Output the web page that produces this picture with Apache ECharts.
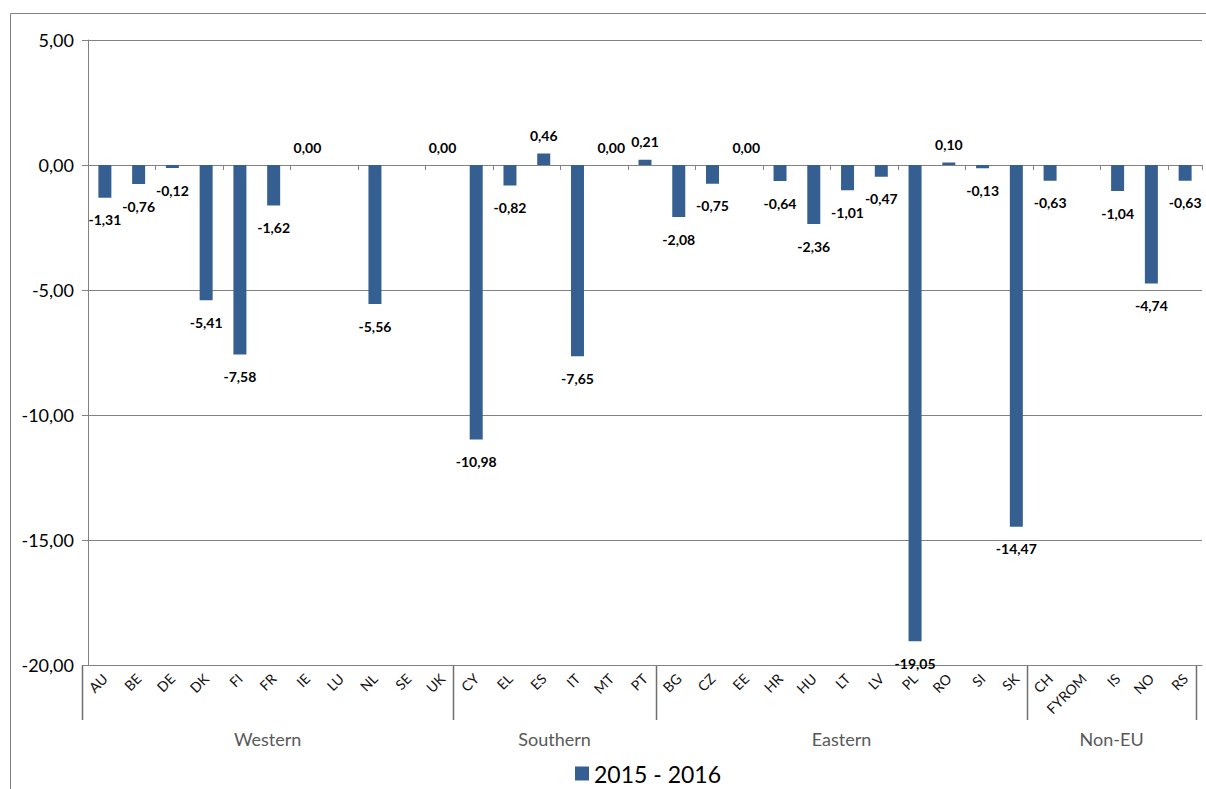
<!DOCTYPE html>
<html>
<head>
<meta charset="utf-8">
<script src="https://cdn.jsdelivr.net/npm/echarts@6/dist/echarts.min.js"></script>
<style>
  html, body { margin: 0; padding: 0; background: #ffffff; }
  #chart { width: 1206px; height: 789px; }
</style>
</head>
<body>
<div id="chart"></div>
<script>
// Country codes, in group order
const countries = [
  'AU', 'BE', 'DE', 'DK', 'FI', 'FR', 'IE', 'LU', 'NL', 'SE', 'UK',
  'CY', 'EL', 'ES', 'IT', 'MT', 'PT',
  'BG', 'CZ', 'EE', 'HR', 'HU', 'LT', 'LV', 'PL', 'RO', 'SI', 'SK',
  'CH', 'FYROM', 'IS', 'NO', 'RS'
];
// Change 2015 - 2016 (null = no data)
const values = [
  -1.31, -0.76, -0.12, -5.41, -7.58, -1.62, 0.00, null, -5.56, null, 0.00,
  -10.98, -0.82, 0.46, -7.65, 0.00, 0.21,
  -2.08, -0.75, 0.00, -0.64, -2.36, -1.01, -0.47, -19.05, 0.10, -0.13, -14.47,
  -0.63, null, -1.04, -4.74, -0.63
];
const groupNames = ['Western', 'Southern', 'Eastern', 'Non-EU'];
const groupSizes = [11, 6, 11, 5];
const seriesName = '2015 - 2016';
const yMin = -20;
const yMax = 5;
const yStep = 5;

const FONT = 'Lato, "Open Sans", sans-serif';
const AXIS_GRAY = '#828282';
const BAR_COLOR = '#365F91';

const fmt = v => Number(v).toFixed(2).replace('.', ',');

const chart = echarts.init(document.getElementById('chart'), null, { renderer: 'svg' });

const barData = values.map(v => v === null ? '-' : {
  value: v,
  label: { position: v < 0 ? 'bottom' : 'top', distance: v < 0 ? 15 : 11 }
});

chart.setOption({
  animation: false,
  backgroundColor: '#ffffff',
  grid: { left: 88, right: 4, top: 40, bottom: 124, containLabel: false },
  legend: {
    data: [seriesName],
    left: 570,
    top: 757,
    icon: 'rect',
    itemWidth: 14,
    itemHeight: 14,
    itemGap: 6,
    textStyle: { fontFamily: FONT, fontSize: 23, color: '#000000' }
  },
  xAxis: [
    {
      // category labels along the bottom of the plot
      type: 'category',
      data: countries,
      position: 'bottom',
      axisLine: { onZero: false, show: true, lineStyle: { color: AXIS_GRAY, width: 1 } },
      axisTick: { show: false },
      axisLabel: {
        rotate: 45,
        margin: 11,
        interval: 0,
        fontFamily: FONT,
        fontSize: 14,
        color: '#111111'
      },
      splitLine: { show: false }
    },
    {
      // baseline with category ticks at zero
      type: 'category',
      data: countries,
      position: 'bottom',
      axisLine: { onZero: true, show: true, lineStyle: { color: AXIS_GRAY, width: 1 } },
      axisTick: { show: true, inside: false, length: 5, lineStyle: { color: AXIS_GRAY } },
      axisLabel: { show: false },
      splitLine: { show: false }
    }
  ],
  yAxis: {
    type: 'value',
    min: yMin,
    max: yMax,
    interval: yStep,
    axisLine: { show: true, lineStyle: { color: AXIS_GRAY, width: 1 } },
    axisTick: { show: true, length: 6, lineStyle: { color: AXIS_GRAY } },
    axisLabel: {
      margin: 14,
      fontFamily: FONT,
      fontSize: 18,
      color: '#000000',
      formatter: v => fmt(v)
    },
    splitLine: { show: true, lineStyle: { color: AXIS_GRAY, width: 1 } }
  },
  series: [{
    name: seriesName,
    type: 'bar',
    xAxisIndex: 0,
    barWidth: 13,
    itemStyle: { color: BAR_COLOR },
    label: {
      show: true,
      fontFamily: FONT,
      fontSize: 14,
      fontWeight: 'bold',
      color: '#000000',
      formatter: p => fmt(p.value)
    },
    data: barData
  }]
});

// Group separators and group names under the category labels
const c0 = chart.convertToPixel({ xAxisIndex: 0 }, 0);
const c1 = chart.convertToPixel({ xAxisIndex: 0 }, 1);
const band = c1 - c0;
const yBottom = chart.convertToPixel({ yAxisIndex: 0 }, yMin);
const edge = k => c0 - band / 2 + k * band - 6;

const bounds = [0];
groupSizes.forEach(s => bounds.push(bounds[bounds.length - 1] + s));

const graphics = [{
  type: 'rect',
  silent: true,
  shape: { x: 10.5, y: 13.5, width: 1220, height: 800 },
  style: { fill: 'none', stroke: AXIS_GRAY, lineWidth: 1 }
}];
bounds.forEach(k => {
  const x = Math.round(edge(k)) + 0.5;
  graphics.push({
    type: 'line',
    silent: true,
    shape: { x1: x, y1: yBottom, x2: x, y2: yBottom + 55 },
    style: { stroke: '#6e6e6e', lineWidth: 1.5 }
  });
});
groupNames.forEach((name, i) => {
  const cx = (edge(bounds[i]) + edge(bounds[i + 1])) / 2;
  graphics.push({
    type: 'text',
    silent: true,
    x: cx,
    y: yBottom + 74,
    style: {
      text: name,
      fontFamily: FONT,
      fontSize: 18,
      fill: '#595959',
      align: 'center',
      verticalAlign: 'middle'
    }
  });
});
chart.setOption({ graphic: graphics });
</script>
</body>
</html>
